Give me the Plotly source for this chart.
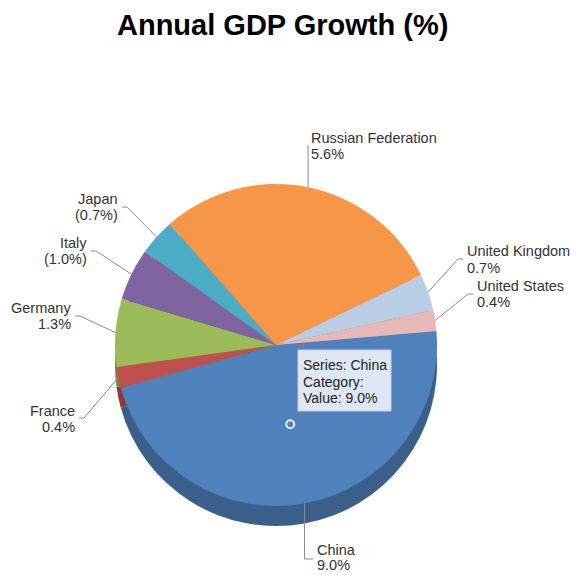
import math
import plotly.graph_objects as go

# ---- data -------------------------------------------------------------
countries = ["China", "France", "Germany", "Italy", "Japan",
             "Russian Federation", "United Kingdom", "United States"]
gdp_growth = [9.0, 0.4, 1.3, -1.0, -0.7, 5.6, 0.7, 0.4]
slice_colors = ["#4F81BD", "#C0504D", "#9BBB59", "#8064A2", "#4BACC6",
                "#F79646", "#B9CDE5", "#E6B9B8"]

# ---- layout constants (pixels on a 576 x 575 page) ---------------------
W, H = 576, 575
CX, CY, R = 276, 345, 161        # pie centre and radius
DEPTH = 20                       # thickness of the rim
ROTATION = 85                    # start of first slice, deg clockwise from 12 o'clock
FONT = "Arial, 'Liberation Sans', sans-serif"
LABEL_SIZE = 14.5
LABEL_COLOR = "#333333"

# label placement: elbow of the leader line, tick end, text side,
# and the vertical centres of the name line and the value line
label_layout = {
    "China":              dict(elbow=(None, 559), tick=313, side="left",  lines=(550, 565)),
    "France":             dict(elbow=(84, 418),  tick=79,  side="right", lines=(411, 427)),
    "Germany":            dict(elbow=(80, 316),  tick=75,  side="right", lines=(308, 324)),
    "Italy":              dict(elbow=(96, 251),  tick=91,  side="right", lines=(243, 259)),
    "Japan":              dict(elbow=(127, 207), tick=122, side="right", lines=(199, 215)),
    "Russian Federation": dict(elbow=(None, 146), tick=307, side="left",  lines=(138, 154)),
    "United Kingdom":     dict(elbow=(458, 259), tick=463, side="left",  lines=(251, 268)),
    "United States":      dict(elbow=(468, 294), tick=473, side="left",  lines=(286, 302)),
}


def darken(hex_color, f=0.74):
    r, g, b = (int(hex_color[i:i + 2], 16) for i in (1, 3, 5))
    return "#%02X%02X%02X" % (int(r * f), int(g * f), int(b * f))


def fmt(v):
    return f"({abs(v):.1f}%)" if v < 0 else f"{v:.1f}%"


sizes = [abs(v) for v in gdp_growth]
total = sum(sizes)


def domain(dy=0):
    return dict(x=[(CX - R) / W, (CX + R) / W],
                y=[1 - (CY + dy + R) / H, 1 - (CY + dy - R) / H])


def point_at(theta_deg, radius):
    t = math.radians(theta_deg)
    return CX + radius * math.sin(t), CY - radius * math.cos(t)


def text(x, y, s, anchor="left", size=LABEL_SIZE, color=LABEL_COLOR):
    return dict(x=x, y=y, xref="x", yref="y", xanchor=anchor, yanchor="middle",
                text=s, showarrow=False, font=dict(family=FONT, size=size, color=color))


fig = go.Figure()

# rim of the pie (darker copy, shifted down)
fig.add_trace(go.Pie(
    labels=countries, values=sizes, sort=False, direction="clockwise",
    rotation=ROTATION, domain=domain(DEPTH), textinfo="none", hoverinfo="skip",
    marker=dict(colors=[darken(c) for c in slice_colors], line=dict(width=0)),
    showlegend=False))

# top face
fig.add_trace(go.Pie(
    labels=countries, values=sizes, sort=False, direction="clockwise",
    rotation=ROTATION, domain=domain(0), textinfo="none", hoverinfo="skip",
    marker=dict(colors=slice_colors, line=dict(width=0)),
    showlegend=False))

# leader lines and labels, anchored at each slice's mid-angle
shapes, annotations = [], []
cum = 0.0
mid_angles = {}
for name, s, v in zip(countries, sizes, gdp_growth):
    mid = ROTATION + 360 * (cum + s / 2) / total
    mid_angles[name] = mid
    cum += s
    ax, ay = point_at(mid, R)
    lay = label_layout[name]
    ex, ey = lay["elbow"]
    if ex is None:
        ex = ax
    shapes.append(dict(
        type="path", xref="x", yref="y",
        path=f"M {ax:.1f},{ay:.1f} L {ex:.1f},{ey:.1f} L {lay['tick']:.1f},{ey:.1f}",
        line=dict(color="#8C8C8C", width=1)))
    left = lay["side"] == "left"
    tx = lay["tick"] + (2 if left else -2)
    anchor = "left" if left else "right"
    y1, y2 = lay["lines"]
    annotations.append(text(tx, y1, name, anchor))
    annotations.append(text(tx, y2, fmt(v), anchor))

# highlighted point of the China slice with its tooltip
hx, hy = point_at(mid_angles["China"], R / 2)
shapes.append(dict(type="circle", xref="x", yref="y",
                   x0=hx - 4, x1=hx + 4, y0=hy - 4, y1=hy + 4,
                   fillcolor="#4F81BD", line=dict(color="#E8EEF8", width=2)))
shapes.append(dict(type="rect", xref="x", yref="y", x0=298, x1=391, y0=350, y1=411,
                   fillcolor="rgba(236,240,248,0.92)", line=dict(color="#C8CED8", width=1)))
china_val = gdp_growth[countries.index("China")]
tip_lines = ["Series: China", "Category:", f"Value: {fmt(china_val)}"]
for i, line in enumerate(tip_lines):
    annotations.append(text(301, 365 + 16.5 * i, line, "left", 14, "#222222"))

# title
annotations.append(dict(
    x=282, y=25, xref="x", yref="y", xanchor="center", yanchor="middle",
    text="<b>Annual GDP Growth (%)</b>", showarrow=False,
    font=dict(family=FONT, size=29, color="#000000")))

fig.update_layout(
    width=W, height=H, margin=dict(l=0, r=0, t=0, b=0),
    paper_bgcolor="white", plot_bgcolor="rgba(0,0,0,0)",
    xaxis=dict(range=[0, W], visible=False, fixedrange=True),
    yaxis=dict(range=[H, 0], visible=False, fixedrange=True),
    shapes=shapes, annotations=annotations, showlegend=False)

fig.write_html("out.html")
